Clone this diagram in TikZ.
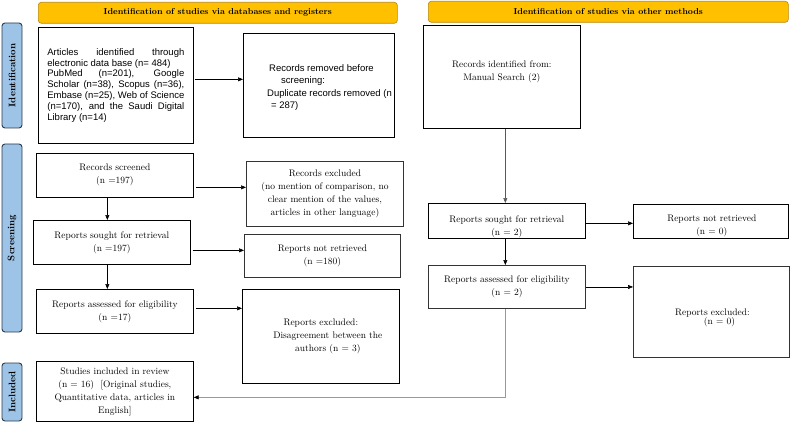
\documentclass[tikz,border=0pt]{standalone}
\usepackage{fontspec}
\newfontfamily\sansA{Liberation Sans}
\usetikzlibrary{arrows.meta,calc}
\definecolor{hdr}{HTML}{FFC000}
\definecolor{hdrb}{HTML}{B8860B}
\definecolor{side}{HTML}{9DC3E6}
\definecolor{sideb}{HTML}{2E3B4E}
\begin{document}
\begin{tikzpicture}[x=1pt,y=-1pt,
  box/.style={draw, line width=0.7pt, anchor=north west, inner sep=0pt, align=center, font=\fontsize{9.5}{13}\selectfont},
  boxg/.style={box, draw=black!80, line width=0.9pt},
  txt/.style={inner sep=0pt, align=center, font=\fontsize{9.5}{13}\selectfont},
  hdrbox/.style={draw=hdrb, fill=hdr, rounded corners=3pt, line width=0.6pt, anchor=north west, inner sep=0pt, font=\fontsize{8.6}{10}\selectfont\bfseries},
  sidebox/.style={draw=sideb, fill=side, rounded corners=3pt, line width=0.9pt, inner sep=0pt, rotate=90, anchor=center, font=\fontsize{9.5}{11}\selectfont\bfseries},
  arr/.style={-{Triangle[length=5pt,width=4pt]}, line width=0.5pt},
]
\useasboundingbox (0,0) rectangle (791,422);

% headers
\node[hdrbox, minimum width=359pt, minimum height=21pt] (h1) at (38,2) {Identification of studies via databases and registers};
\node[hdrbox, minimum width=360pt, minimum height=21pt] (h2) at (428,1) {Identification of studies via other methods};

% side bars
\node[sidebox, minimum width=105pt, minimum height=20pt] (s1) at (12,75.5) {Identification};
\node[sidebox, minimum width=188pt, minimum height=20pt] (s2) at (12,238) {Screening};
\node[sidebox, minimum width=58pt, minimum height=20pt] (s3) at (12,392) {Included};

% left column
\node[box, minimum width=155pt, minimum height=116pt, align=left, font=\sansA\fontsize{9.5}{10.9}\selectfont] (a) at (38,27)
 {\makebox[137pt][s]{Articles identified through}\\
  electronic data base (n= 484)\\
  \makebox[137pt][s]{PubMed (n=201), Google}\\
  \makebox[137pt][s]{Scholar (n=38), Scopus (n=36),}\\
  \makebox[137pt][s]{Embase (n=25), Web of Science}\\
  \makebox[137pt][s]{(n=170), and the Saudi Digital}\\
  Library (n=14)};

\node[box, minimum width=151pt, minimum height=104pt] (b) at (243,33) {};
\node[txt, align=left, anchor=west, font=\sansA\fontsize{9.5}{12.3}\selectfont] (bt) at (267,87.5)
 {\hspace*{2pt}Records removed before\\
  \hspace*{14pt}screening:\\
  Duplicate records removed (n\\
  \hspace*{4pt}= 287)};

\node[box, minimum width=157pt, minimum height=44pt] (scr) at (36,153) {Records screened\\(n =197)};
\node[boxg, minimum width=157pt, minimum height=65pt] (ex1) at (246,161)
 {Records excluded\\(no mention of comparison, no\\clear mention of the values,\\articles in other language)};
\node[box, minimum width=157pt, minimum height=44pt] (sol) at (33,220) {Reports sought for retrieval\\(n =197)};
\node[boxg, minimum width=156pt, minimum height=43pt] (nrl) at (244,234) {Reports not retrieved\\(n =180)};
\node[box, minimum width=157pt, minimum height=44pt] (asl) at (36,289) {Reports assessed for eligibility\\(n =17)};
\node[box, minimum width=157pt, minimum height=94pt] (exl) at (242,289)
 {Reports excluded:\\\hspace*{14pt}Disagreement between the\\\hspace*{14pt}authors (n = 3)};
\node[box, minimum width=157pt, minimum height=60pt] (inc) at (36,361)
 {Studies included in review\\(n = 16)\ \ [Original studies,\\Quantitative data, articles in\\English]};

% right column
\node[box, minimum width=157pt, minimum height=103pt] (c) at (423,25) {};
\node[txt] (ct) at ($(c.center)+(0,-5)$) {Records identified from:\\Manual Search (2)};
\node[box, minimum width=157pt, minimum height=35pt] (d) at (428,203) {};
\node[txt] (dt) at ($(d.center)+(0,6)$) {Reports sought for retrieval\\(n = 2)};
\node[box, minimum width=155pt, minimum height=34pt] (e) at (633,204) {};
\node[txt] (et) at ($(e.center)+(1,5)$) {Reports not retrieved\\(n = 0)};
\node[boxg, minimum width=157pt, minimum height=43pt] (f) at (428,265) {Reports assessed for eligibility\\(n = 2)};
\node[boxg, minimum width=156pt, minimum height=91pt] (g) at (633,266) {};
\node[txt] (gt) at ($(g.center)+(1,6)$) {Reports excluded:\\[-4pt]\hspace*{14pt}(n = 0)};

% arrows left
\draw[arr] ([xshift=1pt,yshift=6pt]a.east) -- ([yshift=6pt]b.west);
\coordinate (p1) at ([xshift=2pt,yshift=-12pt]scr.east);
\draw[arr] (p1) -- (p1 -| ex1.west);
\coordinate (p2) at ([xshift=-7.5pt]scr.south);
\draw[arr] (p2) -- (p2 |- sol.north);
\coordinate (p3) at ([xshift=2pt,yshift=-8pt]sol.east);
\draw[arr] (p3) -- (p3 -| nrl.west);
\coordinate (p4) at ([xshift=-4.5pt]sol.south);
\draw[arr] (p4) -- (p4 |- asl.north);
\coordinate (p5) at ([xshift=2pt,yshift=3pt]asl.east);
\draw[arr] (p5) -- (p5 -| exl.west);

% arrows right
\coordinate (p6) at ([xshift=3.5pt]c.south);
\draw[arr, draw=black!65] (p6) -- (p6 |- d.north);
\coordinate (p7) at ([yshift=-2.5pt]d.east);
\draw[arr] (p7) -- (p7 -| e.west);
\coordinate (p8) at ([xshift=-1.5pt]d.south);
\draw[arr] (p8) -- (p8 |- f.north);
\draw[arr] (f.east) -- (f.east -| g.west);
\coordinate (p9) at ([xshift=-1.5pt]f.south);
\draw[-{Triangle[length=5pt,width=4pt,color=black]}, draw=black!40, line width=0.9pt] (p9) |- ([yshift=-6pt]inc.east);
\end{tikzpicture}
\end{document}
